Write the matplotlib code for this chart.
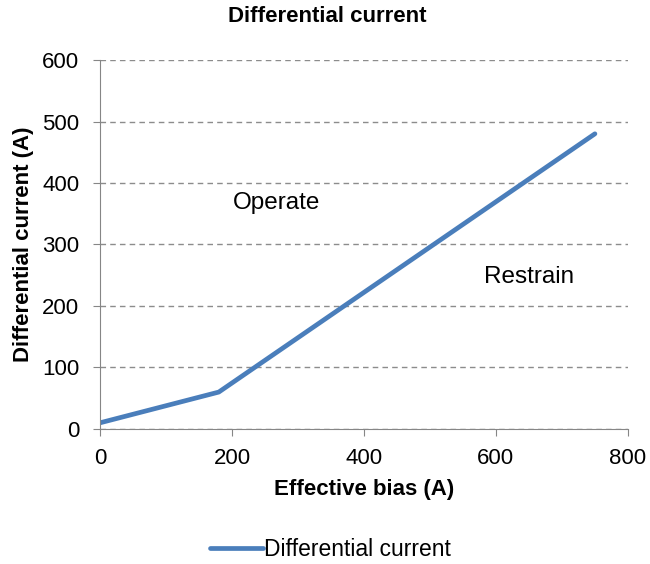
import matplotlib
matplotlib.use("Agg")
from matplotlib import pyplot as plt

plt.rcParams['font.family'] = ['Liberation Sans', 'DejaVu Sans']

# data
bias = [0, 180, 750]
diff_current = [10, 60, 480]
series_name = "Differential current"
x_ticks = [0, 200, 400, 600, 800]
y_ticks = [0, 100, 200, 300, 400, 500, 600]

fig = plt.figure(figsize=(6.5, 5.64), dpi=100)
ax = fig.add_axes([0.1538, 0.2394, 0.8122, 0.6542])

ax.plot(bias, diff_current, color="#4A7EBB", linewidth=3.4,
        solid_capstyle="round", label=series_name)

ax.set_xlim(0, 800)
ax.set_ylim(0, 600)
ax.set_xticks(x_ticks)
ax.set_yticks(y_ticks)
ax.yaxis.grid(True, linestyle=(0, (4, 3)), color="#8C8C8C", linewidth=1)
ax.set_axisbelow(True)

for s in ["top", "right"]:
    ax.spines[s].set_visible(False)
for s in ["left", "bottom"]:
    ax.spines[s].set_color("#868686")
ax.tick_params(axis="both", colors="#868686", labelcolor="black",
               labelsize=16, length=5, direction="out")
ax.tick_params(axis="y", pad=10)
ax.tick_params(axis="x", pad=9)

fig.text(0.503, 1 - 17 / 564, "Differential current", fontsize=16,
         fontweight="bold", ha="center", va="center")
ax.set_xlabel("Effective bias (A)", fontsize=16, fontweight="bold", labelpad=7)
ax.set_ylabel("Differential current (A)", fontsize=16, fontweight="bold", labelpad=6)

ax.text(201, 367, "Operate", fontsize=17.5, va="center", ha="left")
ax.text(582, 247, "Restrain", fontsize=17.5, va="center", ha="left")

fig.legend(loc="center", bbox_to_anchor=(0.509, 1 - 550 / 564), frameon=False,
           fontsize=16.5, handlelength=2.3, handletextpad=0.05)

fig.savefig("out.png", dpi=100)
